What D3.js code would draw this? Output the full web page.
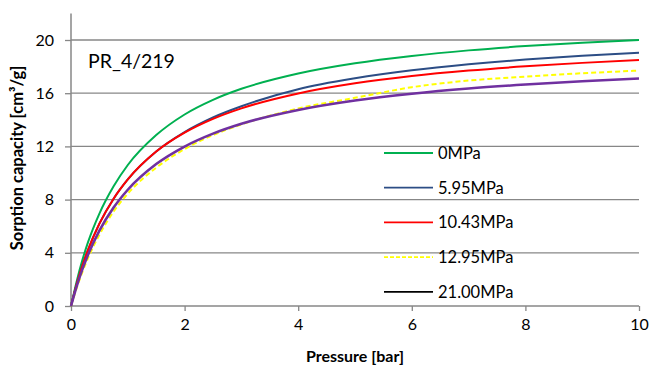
<!DOCTYPE html>
<html><head><meta charset="utf-8">
<script src="https://cdn.jsdelivr.net/npm/d3@7"></script>
<style>body{margin:0;background:#fff}svg{display:block}text{font-family:Lato,"Open Sans",sans-serif;fill:#000}</style>
</head><body><svg id="c" width="651" height="366"></svg>
<script>
const pressure = [0,0.1,0.2,0.3,0.5,0.75,1,1.5,2,2.5,3,4,5,6,7,8,9,10];
const s0MPa    = [0,1.85,3.45,4.8,6.95,9.0,10.6,12.85,14.4,15.5,16.33,17.48,18.25,18.8,19.22,19.54,19.79,20.0];
const s595MPa  = [0,1.63,3.02,4.22,6.19,8.07,9.52,11.62,13.08,14.18,15.02,16.3,17.12,17.72,18.17,18.53,18.81,19.05];
const s1043MPa = [0,1.63,3.02,4.22,6.19,8.07,9.52,11.61,13.03,14.07,14.86,15.98,16.74,17.29,17.7,18.02,18.28,18.5];
const s1295MPa = [0,1.35,2.55,3.6,5.35,7.1,8.45,10.4,11.8,12.85,13.65,14.85,15.65,16.45,16.95,17.25,17.5,17.7];
const s2100MPa = [0,1.48,2.75,3.85,5.66,7.4,8.74,10.67,11.99,12.96,13.7,14.74,15.45,15.96,16.35,16.65,16.9,17.1];
const seriesNames = ["0MPa","5.95MPa","10.43MPa","12.95MPa","21.00MPa"];
const xTicks = [0,2,4,6,8,10];
const yTicks = [0,4,8,12,16,20];

const series = [
  {name:seriesNames[0], v:s0MPa, color:"#00B050", legend:"#00B050", dash:null, w:2},
  {name:seriesNames[1], v:s595MPa, color:"#2C4D85", legend:"#2C4D85", dash:null, w:2},
  {name:seriesNames[2], v:s1043MPa, color:"#FF0000", legend:"#FF0000", dash:null, w:2},
  {name:seriesNames[3], v:s1295MPa, color:"#FFFF00", legend:"#FFFF00", dash:"5,3", w:2},
  {name:seriesNames[4], v:s2100MPa, color:"#7030A0", legend:"#000000", dash:null, w:2.6}
];

const svg = d3.select("#c");
const x = d3.scaleLinear().domain([0,10]).range([71,639]);
const y = d3.scaleLinear().domain([0,22]).range([306,13.4]);
const grey = "#878787";

svg.append("g").selectAll("line").data(yTicks.filter(d=>d>0)).join("line")
  .attr("x1",x(0)).attr("x2",x(10)).attr("y1",d=>y(d)).attr("y2",d=>y(d))
  .attr("stroke",grey).attr("stroke-width",1.3);

const yAxis = svg.append("g").attr("transform",`translate(${x(0)},0)`)
  .call(d3.axisLeft(y).tickValues(yTicks).tickSize(6).tickPadding(11));
const xAxis = svg.append("g").attr("transform",`translate(0,${y(0)})`)
  .call(d3.axisBottom(x).tickValues(xTicks).tickSize(5).tickPadding(8));
[yAxis,xAxis].forEach(g=>{
  g.select(".domain").attr("stroke",grey).attr("stroke-width",1.5);
  g.selectAll(".tick line").attr("stroke",grey).attr("stroke-width",1.3);
  g.selectAll(".tick text").style("font-family","Lato,'Open Sans',sans-serif").style("font-size","16px").attr("fill","#000");
});
yAxis.select(".domain").attr("d",`M0,${y(22)}V${y(0)}`);
xAxis.select(".domain").attr("d",`M${x(0)},0H${x(10)}`);

const line = d3.line().x((d,i)=>x(pressure[i])).y(d=>y(d)).curve(d3.curveMonotoneX);
series.forEach(s=>{
  svg.append("path").attr("d",line(s.v)).attr("fill","none")
    .attr("stroke",s.color).attr("stroke-width",s.w)
    .attr("stroke-dasharray",s.dash);
});

const lg = svg.append("g");
series.forEach((s,i)=>{
  const yy = 153 + i*34.7;
  lg.append("line").attr("x1",384).attr("x2",433).attr("y1",yy).attr("y2",yy)
    .attr("stroke",s.legend).attr("stroke-width",1.8).attr("stroke-dasharray",s.dash?"4,2":null);
  lg.append("text").attr("x",438).attr("y",yy+6).style("font-size","16.5px").text(s.name);
});

svg.append("text").attr("x",88).attr("y",68).style("font-size","19.5px").text("PR_4/219");

svg.append("text").attr("x",355).attr("y",362).attr("text-anchor","middle")
  .style("font-size","16px").style("font-weight","bold").text("Pressure [bar]");
svg.append("text").attr("transform","translate(23,158) rotate(-90)").attr("text-anchor","middle")
  .style("font-size","16.5px").style("font-weight","bold").text("Sorption capacity [cm³/g]");
</script></body></html>
